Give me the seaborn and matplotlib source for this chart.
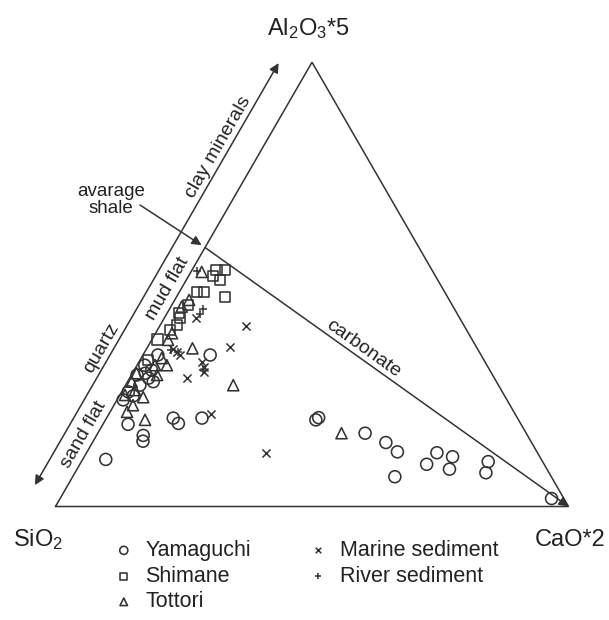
import numpy as np
import pandas as pd
import matplotlib
matplotlib.use("Agg")
import matplotlib.pyplot as plt
import seaborn as sns

sns.set_theme(style="white")
plt.rcParams["font.family"] = ["Liberation Sans", "DejaVu Sans"]
plt.rcParams["mathtext.default"] = "regular"

# Compositions in percent of (SiO2 + Al2O3*5 + CaO*2); SiO2 is the remainder.
yamaguchi_al = [10.6, 18.5, 16.0, 14.7, 19.9, 18.7, 19.9, 19.5, 20.0, 16.5, 14.4,
                12.3, 6.7, 12.1, 9.5, 11.2, 8.4, 10.1, 7.6, 1.8, 34.1, 24.0, 24.9,
                28.9, 28.1, 30.7, 27.3, 25.8, 29.6, 31.8, 34.1, 30.0]
yamaguchi_ca = [4.5, 4.9, 9.1, 9.7, 13.0, 14.6, 18.6, 41.0, 41.3, 52.1, 57.2,
                60.5, 62.8, 68.3, 67.6, 71.8, 72.6, 79.3, 80.1, 95.8, 13.1, 1.2, 2.7,
                3.7, 5.0, 3.4, 2.8, 1.3, 1.1, 1.5, 2.9, 2.5]

shimane_al = [53.2, 53.2, 51.0, 51.9, 48.3, 48.3, 47.2, 45.4, 43.6, 42.4, 40.9,
              37.6, 39.7, 33.0]
shimane_ca = [4.8, 6.5, 6.5, 4.8, 3.5, 4.8, 9.5, 3.2, 2.2, 3.1, 3.2,
              1.1, 2.5, 1.5]

tottori_al = [52.8, 35.6, 27.3, 19.5, 31.8, 24.6, 16.5, 45.0, 39.0, 33.4, 31.8,
              21.3, 26.2, 37.5, 46.5, 25.1, 29.6, 30.0, 28.1, 22.8]
tottori_ca = [2.1, 8.9, 21.0, 7.7, 5.8, 4.8, 47.5, 2.1, 3.2, 4.0, 3.5,
              3.3, 2.4, 3.2, 2.8, 1.0, 5.0, 0.8, 0.8, 3.7]

marine_al = [40.6, 35.8, 28.9, 20.8, 12.0, 35.4, 34.8, 34.1, 32.5, 31.4, 30.3, 42.4]
marine_ca = [16.8, 16.2, 11.1, 20.0, 35.1, 5.2, 6.3, 7.2, 12.3, 13.2, 13.8, 6.2]

river_al = [44.4, 53.0, 34.8, 30.7, 43.3, 35.2]
river_ca = [6.6, 1.1, 6.5, 13.4, 6.5, 4.9]

groups = ["Yamaguchi", "Shimane", "Tottori", "Marine sediment", "River sediment"]

# Average shale sits on the SiO2 - Al2O3*5 side
AVG_SHALE_AL = 58.3

H = np.sqrt(3) / 2


def to_xy(al, ca):
    al = np.asarray(al, float) / 100.0
    ca = np.asarray(ca, float) / 100.0
    return ca + al / 2.0, al * H


frames = []
for name, al, ca in [("Yamaguchi", yamaguchi_al, yamaguchi_ca),
                     ("Shimane", shimane_al, shimane_ca),
                     ("Tottori", tottori_al, tottori_ca),
                     ("Marine sediment", marine_al, marine_ca),
                     ("River sediment", river_al, river_ca)]:
    x, y = to_xy(al, ca)
    frames.append(pd.DataFrame({"x": x, "y": y, "group": name}))
df = pd.concat(frames, ignore_index=True)

INK = "#333333"
TXT = "#222222"
W, Hpx = 609, 620
SIDE = 513.0  # pixels per unit side
fig = plt.figure(figsize=(W / 100, Hpx / 100), dpi=100)
ax = fig.add_axes([0, 0, 1, 1])
x0 = -55.5 / SIDE
y0 = -(Hpx - 506.5) / SIDE
ax.set_xlim(x0, x0 + W / SIDE)
ax.set_ylim(y0, y0 + Hpx / SIDE)
ax.axis("off")

# triangle frame
ax.plot([0, 1, 0.5, 0], [0, 0, H, 0], color=INK, lw=1.1, solid_joinstyle="miter")

# shale -> carbonate mixing line
sx, sy = to_xy([AVG_SHALE_AL], [0.0])
sx, sy = float(sx[0]), float(sy[0])
ax.annotate("", xy=(1, 0), xytext=(sx, sy),
            arrowprops=dict(arrowstyle="-|>", color=INK, lw=1.1,
                            mutation_scale=14, shrinkA=0, shrinkB=0))

# quartz <-> clay minerals axis, drawn parallel to the left side
nx, ny = -H, 0.5
d_line = 0.0556


def side_pt(t, d):
    return (t * 0.5 + d * nx, t * H + d * ny)


ax.annotate("", xy=side_pt(0.966, d_line), xytext=side_pt(0.016, d_line),
            arrowprops=dict(arrowstyle="<|-|>", color=INK, lw=1.1,
                            mutation_scale=14, shrinkA=0, shrinkB=0))

txt_kw = dict(ha="center", va="center", rotation=60, rotation_mode="anchor",
              fontsize=14, color=TXT)
ax.text(*side_pt(0.766, 0.076), "clay minerals", **txt_kw)
ax.text(*side_pt(0.312, 0.076), "quartz", **txt_kw)
ax.text(*side_pt(0.148, 0.023), "sand flat", **txt_kw)
ax.text(*side_pt(0.478, 0.023), "mud flat", **txt_kw)

# carbonate label along the mixing line
dx, dy = 1 - sx, -sy
ln = np.hypot(dx, dy)
ux, uy = dx / ln, dy / ln
ang = np.degrees(np.arctan2(dy, dx))
ax.text(sx + 0.366 * ux - 0.0175 * uy, sy + 0.366 * uy + 0.0175 * ux, "carbonate",
        ha="center", va="center", rotation=ang, rotation_mode="anchor",
        fontsize=14, color=TXT)

# average shale pointer
ax.text(0.1082, 0.5975, "avarage\nshale", ha="center", va="center",
        fontsize=13.5, color=TXT, linespacing=1.05)
ax.annotate("", xy=(sx, sy), xytext=(0.1647, 0.5877),
            arrowprops=dict(arrowstyle="-|>", color=INK, lw=1.1,
                            mutation_scale=14, shrinkA=0, shrinkB=3))

# samples
open_kw = dict(facecolor="none", edgecolor=INK, linewidth=1.15, color=INK)
styles = {
    "Yamaguchi": dict(marker="o", s=74, **open_kw),
    "Shimane": dict(marker="s", s=54, **open_kw),
    "Tottori": dict(marker="^", s=64, **open_kw),
    "Marine sediment": dict(marker="x", s=34, color=INK, linewidth=1.1),
    "River sediment": dict(marker="+", s=40, color=INK, linewidth=1.1),
}
for g in groups:
    sns.scatterplot(data=df[df["group"] == g], x="x", y="y", ax=ax,
                    label=g, legend=False, zorder=3, **styles[g])

# vertex labels
lab_kw = dict(fontsize=17, color=TXT)
ax.text(0.4928, (506.5 - 35) / SIDE, r"Al$_2$O$_3$*5", ha="center", va="baseline", **lab_kw)
ax.text((13.0 - 55.5) / SIDE, (506.5 - 546.5) / SIDE, r"SiO$_2$", ha="left", va="baseline", **lab_kw)
ax.text((535.0 - 55.5) / SIDE, (506.5 - 546.5) / SIDE, "CaO*2", ha="left", va="baseline", **lab_kw)

handles, labels = ax.get_legend_handles_labels()
leg = ax.legend(handles, labels, loc="upper left", bbox_to_anchor=(113 / W, 1 - 540 / Hpx),
                ncol=2, frameon=False, fontsize=15.5, handletextpad=0.5,
                columnspacing=2.62, labelspacing=0.22, markerscale=0.68,
                borderaxespad=0, borderpad=0, handlelength=1.0)
for t in leg.get_texts():
    t.set_color(TXT)

fig.savefig("out.png", dpi=100)
